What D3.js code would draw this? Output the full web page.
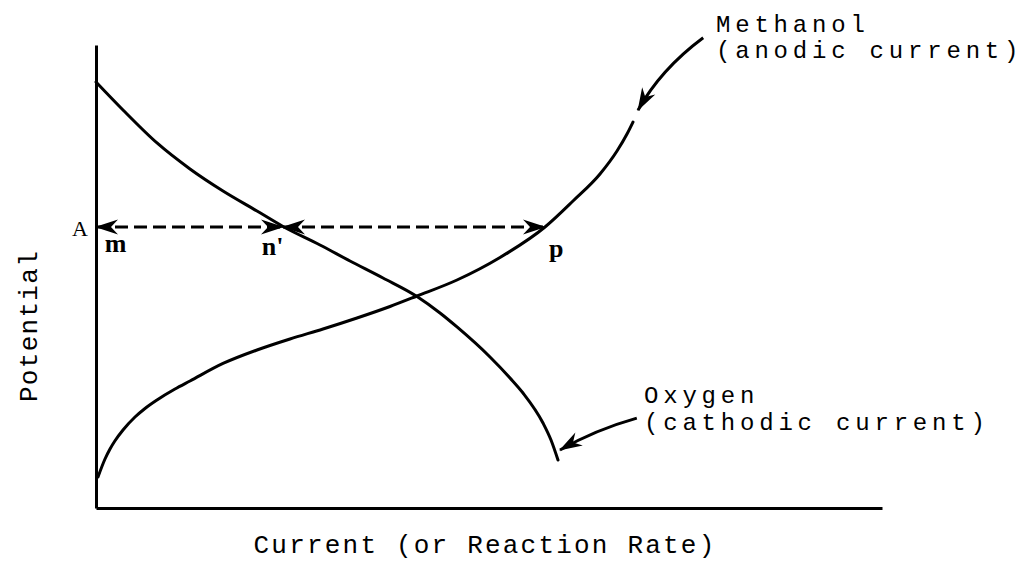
<!DOCTYPE html>
<html>
<head>
<meta charset="utf-8">
<script src="https://cdn.jsdelivr.net/npm/d3@7"></script>
<style>
  body { margin: 0; background: #fff; }
  .mono { font-family: "Liberation Mono", "DejaVu Sans Mono", monospace; fill: #000; }
  .serif { font-family: "Liberation Serif", "DejaVu Serif", serif; fill: #000; }
</style>
</head>
<body>
<div id="chart"></div>
<script>
// Oxygen (cathodic) curve, [current, potential] in arbitrary units
var oxygen = [
    [0, 94.77], [3.375, 88.54], [7.625, 81.2], [11.75, 75.42], [15.875, 70.52],
    [20.125, 66.07], [23.375, 62.63], [28, 58.51], [31.75, 54.95], [35.875, 51.17],
    [40.125, 47.05], [43, 43.38], [45.125, 40.27], [49.25, 33.59], [51.75, 28.92],
    [53.375, 25.58], [55.875, 18.91], [56.875, 15.13], [57.75, 10.68]
];

// Methanol (anodic) curve
var methanol = [
    [0.25, 6.9], [1.125, 10.9], [1.75, 13.13], [2.375, 14.95], [3.375, 17.35],
    [4.875, 20.24], [6.125, 22.14], [7.625, 24.03], [9.875, 26.47], [11.75, 28.25],
    [15.875, 32.15], [20.125, 35.15], [24.25, 37.6], [28.375, 39.82], [32.625, 42.27],
    [36.75, 44.83], [40.125, 47.16], [45.125, 50.72], [50.5, 55.73], [56.125, 62.51],
    [59.625, 68.3], [63, 74.31], [65.125, 79.42], [66.375, 83.2], [67.125, 85.87]
];

// Constant potential A and the points m, n', p on it
var potential_A = 62.5;
var point_names = ['m', "n'", 'p'];
var point_x     = [0, 23.375, 56.125];

var width  = 1022;
var height = 565;

var svg = d3.select('#chart')
    .append('svg')
    .attr('width', width)
    .attr('height', height);

// Scales
var scale_x = d3.scaleLinear()
    .domain([0, 98.25])
    .range([96, 882]);

var scale_y = d3.scaleLinear()
    .domain([0, 103])
    .range([508, 45]);

// Arrow head marker
svg.append('defs')
    .append('marker')
    .attr('id', 'head')
    .attr('markerUnits', 'userSpaceOnUse')
    .attr('viewBox', '-24 -9 26 18')
    .attr('refX', 0)
    .attr('refY', 0)
    .attr('markerWidth', 26)
    .attr('markerHeight', 18)
    .attr('orient', 'auto-start-reverse')
    .append('path')
    .attr('d', 'M1,0 L-22,-7.5 L-15,0 L-22,7.5 Z')
    .attr('fill', '#000');

// Axes, no ticks
var axis_x = d3.axisBottom(scale_x).tickValues([]).tickSizeOuter(0);
var axis_y = d3.axisLeft(scale_y).tickValues([]).tickSizeOuter(0);

svg.append('g')
    .attr('class', 'x-axis')
    .attr('transform', 'translate(0,' + scale_y(0) + ')')
    .call(axis_x);

svg.append('g')
    .attr('class', 'y-axis')
    .attr('transform', 'translate(' + scale_x(0) + ',0)')
    .call(axis_y);

svg.selectAll('.domain')
    .attr('stroke', '#000')
    .attr('stroke-width', 3);

// Curves
var line = d3.line()
    .x(function(d) { return scale_x(d[0]); })
    .y(function(d) { return scale_y(d[1]); })
    .curve(d3.curveMonotoneX);

[oxygen, methanol].forEach(function(s) {
    svg.append('path')
        .datum(s)
        .attr('d', line)
        .attr('fill', 'none')
        .attr('stroke', '#000')
        .attr('stroke-width', 3)
        .attr('stroke-linecap', 'round');
});

// Dashed double arrows m <-> n' and n' <-> p
for (var i = 0; i < point_x.length - 1; i++) {
    svg.append('line')
        .attr('x1', scale_x(point_x[i]))
        .attr('x2', scale_x(point_x[i + 1]))
        .attr('y1', scale_y(potential_A))
        .attr('y2', scale_y(potential_A))
        .attr('stroke', '#000')
        .attr('stroke-width', 3)
        .attr('stroke-dasharray', '13,6')
        .attr('marker-start', 'url(#head)')
        .attr('marker-end', 'url(#head)');
}

// Point labels
var label_dx = [1.1, -2.65, 0.5];
var label_dy = [-5.6, -6.3, -6.7];
svg.selectAll('.pt')
    .data(point_names)
    .enter()
    .append('text')
    .attr('class', 'serif')
    .attr('x', function(d, i) { return scale_x(point_x[i] + label_dx[i]); })
    .attr('y', function(d, i) { return scale_y(potential_A + label_dy[i]); })
    .attr('font-size', 26)
    .attr('font-weight', 'bold')
    .text(function(d) { return d; });

svg.append('text')
    .attr('class', 'serif')
    .attr('x', scale_x(-1))
    .attr('y', scale_y(potential_A - 2.1))
    .attr('text-anchor', 'end')
    .attr('font-size', 22)
    .text('A');

// Pointer arrows to the curves
function pointer(from, ctrl, to) {
    var p = d3.path();
    p.moveTo(scale_x(from[0]), scale_y(from[1]));
    p.quadraticCurveTo(scale_x(ctrl[0]), scale_y(ctrl[1]), scale_x(to[0]), scale_y(to[1]));
    svg.append('path')
        .attr('d', p.toString())
        .attr('fill', 'none')
        .attr('stroke', '#000')
        .attr('stroke-width', 3)
        .attr('marker-end', 'url(#head)');
}
pointer([75.9, 104.6], [70.6, 97.6], [67.75, 88.5]);
pointer([67.6, 20.0], [62.4, 17.4], [58, 12.9]);

// Curve labels
var curve_labels = [
    ['Methanol', '(anodic current)'],
    ['Oxygen', '(cathodic current)']
];
var curve_label_x = [77.5, 68.5];
var curve_label_y = [[105.9, 100.1], [23.36, 17.35]];

curve_labels.forEach(function(lines, k) {
    lines.forEach(function(t, j) {
        svg.append('text')
            .attr('class', 'mono')
            .attr('x', scale_x(curve_label_x[k]))
            .attr('y', scale_y(curve_label_y[k][j]))
            .attr('font-size', 24)
            .attr('letter-spacing', 4.8)
            .text(t);
    });
});

// Axis titles
svg.append('text')
    .attr('class', 'mono')
    .attr('x', 485)
    .attr('y', 553)
    .attr('text-anchor', 'middle')
    .attr('font-size', 26)
    .attr('letter-spacing', 2.2)
    .text('Current (or Reaction Rate)');

svg.append('text')
    .attr('class', 'mono')
    .attr('transform', 'translate(37,326) rotate(-90)')
    .attr('text-anchor', 'middle')
    .attr('font-size', 26)
    .attr('letter-spacing', 1.3)
    .text('Potential');
</script>
</body>
</html>
